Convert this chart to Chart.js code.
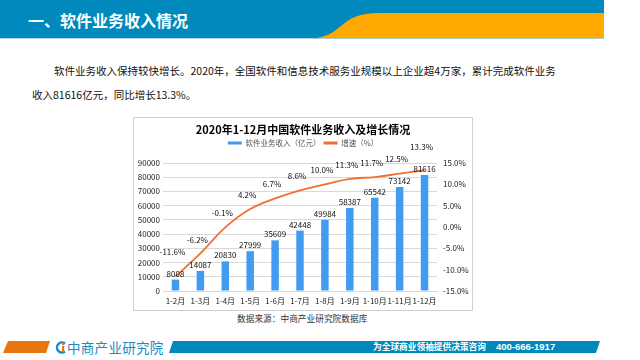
<!DOCTYPE html>
<html><head><meta charset="utf-8">
<script src="https://cdn.jsdelivr.net/npm/chart.js@4/dist/chart.umd.min.js"></script>
<style>
html,body{margin:0;padding:0;width:640px;height:360px;overflow:hidden;background:#fff;font-family:"Noto Sans CJK SC","Noto Sans",sans-serif;}
#page{position:relative;width:640px;height:360px;}
.abs{position:absolute;white-space:nowrap;}
#title{left:28px;top:9px;color:#fff;font-size:16px;font-weight:bold;line-height:22px;}
#para{left:32px;top:59px;font-size:10.5px;line-height:24px;color:#111;}
#box{left:133px;top:117px;width:340px;height:194px;border:1px solid #d0d0d0;box-sizing:border-box;}
#chartWrap{left:133px;top:117px;width:340px;height:194px;}
#source{left:237px;top:312px;font-size:8.7px;line-height:14px;color:#333;}
#logo{left:67px;top:338px;font-size:13.5px;line-height:18px;color:#1b8bc8;letter-spacing:0.3px;}
#slogan{left:373px;top:340px;font-size:8.7px;line-height:14px;color:#fff;font-weight:bold;}
#phone{left:496px;top:340px;font-size:9.5px;line-height:14px;color:#fff;font-weight:bold;font-family:"Liberation Sans",sans-serif;}
</style></head>
<body><div id="page">
<svg class="abs" style="left:0;top:0" width="640" height="360">
  <rect x="0" y="0" width="604" height="38" fill="#0089bc"/>
  <path d="M604 13 L378 13 C360 13 350 18 341 26 C332 34 322 39 305 39 L604 39 Z" fill="#ffa800"/>
  <rect x="0" y="38" width="604" height="1" fill="#9fd0e6" opacity="0.8"/>
  <polygon points="8,341 50,341 46,353 3,353" fill="#e8750f"/>
  <polygon points="173,341 600,341 596,353 169,353" fill="#0089bc"/>
  <path d="M65 343.5 A5 5 0 1 0 65 351.5" fill="none" stroke="#1b8bc8" stroke-width="2.4"/>
  <rect x="62" y="346" width="2.2" height="6" fill="#e8750f"/>
  <circle cx="63.1" cy="344" r="1.2" fill="#e8750f"/>
</svg>
<div id="title" class="abs">一、软件业务收入情况</div>
<div id="para" class="abs"><span style="padding-left:22px">软件业务收入保持较快增长。2020年，全国软件和信息技术服务业规模以上企业超4万家，累计完成软件业务</span><br>收入81616亿元，同比增长13.3%。</div>
<div id="box" class="abs"></div>
<div id="chartWrap" class="abs"><canvas id="c" width="340" height="194"></canvas></div>
<div id="source" class="abs">数据来源：中商产业研究院数据库</div>
<div id="logo" class="abs">中商产业研究院</div>
<div id="slogan" class="abs">为全球商业领袖提供决策咨询</div>
<div id="phone" class="abs">400-666-1917</div>
</div>
<script>
const chartTitle = '2020年1-12月中国软件业务收入及增长情况';
const categories = ['1-2月','1-3月','1-4月','1-5月','1-6月','1-7月','1-8月','1-9月','1-10月','1-11月','1-12月'];
const revenue = [8008,14087,20830,27999,35609,42448,49984,58387,65542,73142,81616];
const growth = [-11.6,-6.2,-0.1,4.2,6.7,8.6,10.0,11.3,11.7,12.5,13.3];
const revenueTicks = [0,10000,20000,30000,40000,50000,60000,70000,80000,90000];
const growthTicks = [-15,-10,-5,0,5,10,15];
const barLabel = '软件业务收入（亿元）';
const lineLabel = '增速（%）';

const FONT = '"Noto Sans CJK SC","Noto Sans",sans-serif';
Chart.defaults.font.family = FONT;
Chart.defaults.font.size = 8;
Chart.defaults.color = '#333';

const valueLabels = {
  id: 'valueLabels',
  afterDatasetsDraw(chart) {
    const ctx = chart.ctx;
    ctx.save();
    ctx.font = '8px ' + FONT;
    ctx.fillStyle = '#111';
    ctx.textAlign = 'center';
    ctx.textBaseline = 'bottom';
    const bars = chart.getDatasetMeta(0).data;
    bars.forEach((el, i) => ctx.fillText(String(revenue[i]), el.x, el.y - 2));
    const pts = chart.getDatasetMeta(1).data;
    pts.forEach((el, i) => {
      const base = Math.min(el.y - 10, bars[i].y - 24);
      ctx.fillText(growth[i].toFixed(1) + '%', el.x - 3, base);
    });
    ctx.restore();
  }
};

new Chart(document.getElementById('c'), {
  data: {
    labels: categories,
    datasets: [
      {type:'bar', label: barLabel, data: revenue, backgroundColor:'#419bf0', yAxisID:'y', order:1, barPercentage:0.3, categoryPercentage:1},
      {type:'line', label: lineLabel, data: growth, borderColor:'#f07030', backgroundColor:'#f07030', borderWidth:1.8, tension:0.4, pointRadius:0, yAxisID:'y1', order:0, fill:false}
    ]
  },
  options: {
    responsive:false, animation:false, devicePixelRatio:1,
    layout:{padding:0},
    plugins:{
      title:{display:true, text:chartTitle, color:'#000', font:{size:11, weight:'bold'}, padding:{top:6,bottom:0}},
      subtitle:{display:true, text:'', weight:500, font:{size:6.3, lineHeight:1}, padding:0},
      legend:{display:true, position:'top', labels:{boxWidth:14, boxHeight:3, padding:3, color:'#555', font:{size:7.5},
        sort:(a,b)=>a.datasetIndex-b.datasetIndex,
        generateLabels(chart){
          const items = Chart.defaults.plugins.legend.labels.generateLabels(chart);
          items.forEach(it => { it.lineWidth = 0; it.strokeStyle = 'rgba(0,0,0,0)'; });
          return items;
        }}},
      tooltip:{enabled:false}
    },
    scales:{
      x:{grid:{display:false, drawTicks:false}, border:{display:true, color:'#d9d9d9'},
         ticks:{padding:5, maxRotation:0, autoSkip:false, color:'#222', font:{size:8}},
         afterFit(s){ s.height = 20; }},
      y:{position:'left', min:0, max:90000,
         afterBuildTicks(s){ s.ticks = revenueTicks.map(v=>({value:v})); },
         ticks:{padding:3, color:'#222', font:{size:8}, callback:v=>String(v)},
         grid:{color:'#d9d9d9', drawTicks:false}, border:{display:false},
         afterFit(s){ s.width = 30; }},
      y1:{position:'right', min:-15, max:15,
         afterBuildTicks(s){ s.ticks = growthTicks.map(v=>({value:v})); },
         ticks:{padding:6, color:'#222', font:{size:8}, callback:v=>Number(v).toFixed(1)+'%'},
         grid:{display:false, drawTicks:false}, border:{display:false},
         afterFit(s){ s.width = 36; }}
    }
  },
  plugins:[valueLabels]
});
</script>
</body></html>
